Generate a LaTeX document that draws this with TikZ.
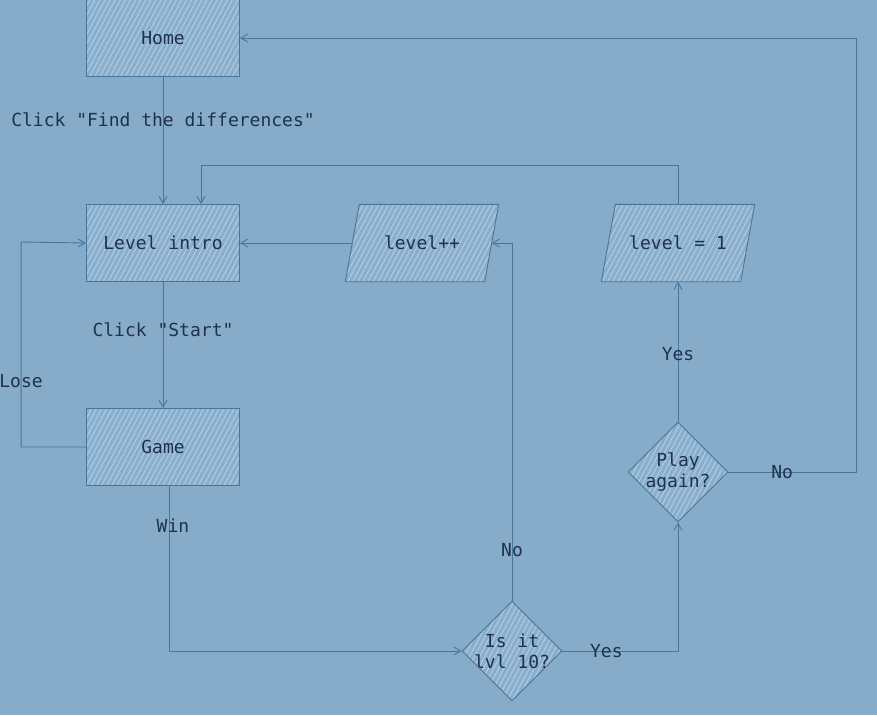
\documentclass[tikz,border=0pt]{standalone}
\usepackage{fontspec}
\setmonofont{DejaVu Sans Mono}
\usepackage{tikz}
\usetikzlibrary{shapes.geometric, arrows.meta, patterns.meta, backgrounds}
\definecolor{bgblue}{RGB}{135,172,201}
\definecolor{boxfill}{RGB}{138,175,204}
\definecolor{hatch}{RGB}{176,204,226}
\definecolor{strokeblue}{RGB}{70,118,156}
\definecolor{inkblue}{RGB}{30,50,80}

\begin{document}
\begin{tikzpicture}[
    x=1pt, y=-1pt,
    >={Straight Barb[length=7pt,width=8pt]},
    every node/.style={font=\ttfamily\fontsize{18}{21}\selectfont, text=inkblue},
    hatched/.style={draw=strokeblue, line width=0.9pt, preaction={fill=boxfill},
      pattern={Lines[angle=62,distance=4.5pt,line width=1pt]}, pattern color=hatch},
    proc/.style={hatched, rectangle, minimum width=153pt, minimum height=77pt, inner sep=0pt},
    io/.style={rectangle, minimum width=139pt, minimum height=77pt, inner sep=0pt},
    cond/.style={hatched, diamond, aspect=1, minimum width=100pt, minimum height=100pt,
      inner sep=-5pt, align=center},
    flow/.style={->, draw=strokeblue, line width=0.9pt},
    lbl/.style={inner sep=1pt},
  ]
  \useasboundingbox (0,0) rectangle (877,715);
  % boxes
  \node[proc] (home) at (163,38) {Home};
  \node[proc] (intro) at (163,243) {Level intro};
  \node[proc] (game) at (163,447) {Game};
  \node[io] (lvlpp) at (422,243) {level++};
  \node[io] (lvlone) at (678,243) {level = 1};
  \node[cond] (play) at (678,472) {Play\\again?};
  \node[cond] (isit) at (512,651) {Is it\\lvl 10?};
  % background and slanted data boxes
  \begin{scope}[on background layer]
    \fill[bgblue] (0,0) rectangle (877,715);
    \foreach \n in {lvlpp,lvlone}
      \path[hatched] ([xshift=-7pt]\n.south west) -- ([xshift=-7pt]\n.south east)
        -- ([xshift=7pt]\n.north east) -- ([xshift=7pt]\n.north west) -- cycle;
  \end{scope}
  % connectors
  \draw[flow] (home) -- node[lbl, pos=0.34] {Click "Find the differences"} (intro);
  \draw[flow] (intro) -- node[lbl, pos=0.38] {Click "Start"} (game);
  \draw[flow] (game.west) -- ++(-65,0) -- node[lbl, pos=0.32] {Lose} ++(0,-205) -- (intro.west);
  \draw[flow] ([xshift=6pt]game.south) |- node[lbl, pos=0.12, xshift=4pt] {Win} (isit.west);
  \draw[flow] (isit.north) |- node[lbl, pos=0.07] {No} (lvlpp.east);
  \draw[flow] (lvlpp.west) -- (intro.east);
  \draw[flow] (isit.east) -| node[lbl, pos=0.19] {Yes} (play.south);
  \draw[flow] (play.north) -- node[lbl, pos=0.48] {Yes} (lvlone.south);
  \draw[flow] (lvlone.north) -- ++(0,-39) -| ([xshift=38pt]intro.north);
  \draw[flow] (play.east) -- node[lbl, pos=0.42] {No} ++(128,0) |- (home.east);
\end{tikzpicture}
\end{document}
